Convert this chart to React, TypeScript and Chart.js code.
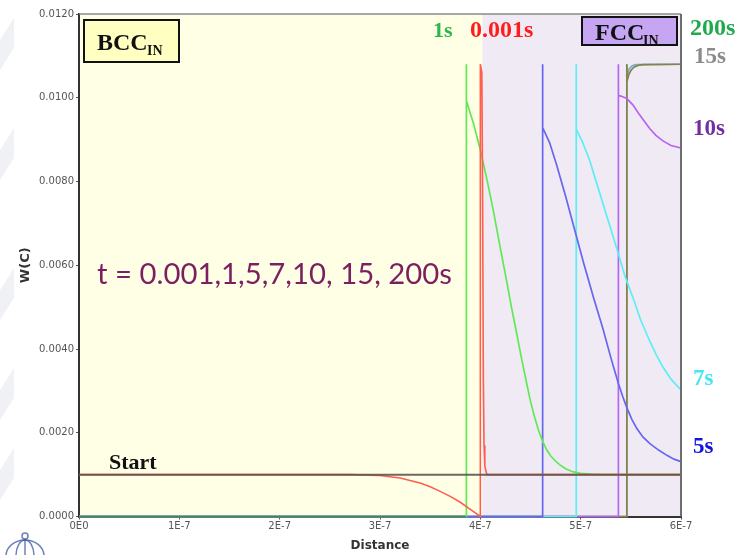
import { useEffect, useRef } from 'react';
import { Chart, registerables } from 'chart.js';

Chart.register(...registerables);

// ---- Axes ----
const X_TICKS = [0, 1e-7, 2e-7, 3e-7, 4e-7, 5e-7, 6e-7];
const X_TICK_LABELS = ['0E0', '1E-7', '2E-7', '3E-7', '4E-7', '5E-7', '6E-7'];
const Y_TICKS = [0, 0.002, 0.004, 0.006, 0.008, 0.01, 0.012];
const Y_TICK_LABELS = ['0.0000', '0.0020', '0.0040', '0.0060', '0.0080', '0.0100', '0.0120'];

// Initial BCC | FCC interface position
const PHASE_BOUNDARY = 4.02e-7;

// ---- Carbon profiles W(C) vs distance ----
const START_DIST = [0, 6e-7];
const START_W = [0.001, 0.001];

const T0001_DIST = [0, 2.7e-7, 3.0e-7, 3.2e-7, 3.4e-7, 3.5e-7, 3.6e-7, 3.7e-7, 3.8e-7, 3.9e-7, 4.0e-7, 4.0e-7, 4.015e-7, 4.022e-7, 4.03e-7, 4.037e-7, 4.045e-7, 4.065e-7, 6e-7];
const T0001_W = [0.001, 0.001, 0.00098, 0.00092, 0.0008, 0.00071, 0.0006, 0.00048, 0.00034, 0.00017, 0, 0.0108, 0.0106, 0.008, 0.0033, 0.0017, 0.0012, 0.001, 0.001];

const T1_DIST = [0, 3.86e-7, 3.86e-7, 3.862e-7, 3.93e-7, 4.0e-7, 4.07e-7, 4.13e-7, 4.2e-7, 4.26e-7, 4.31e-7, 4.36e-7, 4.41e-7, 4.46e-7, 4.5e-7, 4.54e-7, 4.58e-7, 4.62e-7, 4.66e-7, 4.7e-7, 4.75e-7, 4.79e-7, 4.85e-7, 4.92e-7, 5.0e-7, 5.1e-7, 5.2e-7, 6e-7];
const T1_W = [0, 0, 0.0108, 0.00993, 0.0094, 0.00876, 0.008, 0.0073, 0.0064, 0.00565, 0.005, 0.0044, 0.00378, 0.0032, 0.00275, 0.00238, 0.00206, 0.0018, 0.0016, 0.00145, 0.00132, 0.00124, 0.00114, 0.00107, 0.00103, 0.00101, 0.001, 0.001];

const T5_DIST = [0, 4.62e-7, 4.62e-7, 4.622e-7, 4.69e-7, 4.76e-7, 4.85e-7, 4.94e-7, 5.03e-7, 5.13e-7, 5.22e-7, 5.3e-7, 5.375e-7, 5.42e-7, 5.46e-7, 5.51e-7, 5.56e-7, 5.62e-7, 5.69e-7, 5.78e-7, 5.86e-7, 5.93e-7, 6e-7];
const T5_W = [0, 0, 0.0108, 0.00929, 0.00893, 0.0084, 0.00765, 0.00685, 0.00605, 0.00521, 0.0045, 0.0038, 0.00318, 0.00286, 0.0026, 0.00232, 0.0021, 0.0019, 0.00174, 0.00158, 0.00146, 0.00137, 0.00131];

const T7_DIST = [0, 4.955e-7, 4.955e-7, 4.957e-7, 5.02e-7, 5.09e-7, 5.18e-7, 5.27e-7, 5.36e-7, 5.44e-7, 5.525e-7, 5.6e-7, 5.69e-7, 5.76e-7, 5.82e-7, 5.9e-7, 6e-7];
const T7_W = [0, 0, 0.0108, 0.00926, 0.00893, 0.0085, 0.0078, 0.0071, 0.0064, 0.00575, 0.0052, 0.00468, 0.00418, 0.00383, 0.00357, 0.00328, 0.00302];

const T10_DIST = [0, 5.375e-7, 5.375e-7, 5.377e-7, 5.4e-7, 5.46e-7, 5.52e-7, 5.58e-7, 5.64e-7, 5.69e-7, 5.75e-7, 5.82e-7, 5.9e-7, 6e-7];
const T10_W = [0, 0, 0.0108, 0.01006, 0.01004, 0.00998, 0.00983, 0.00962, 0.00942, 0.00926, 0.0091, 0.00897, 0.00886, 0.0088];

const T15_DIST = [0, 5.46e-7, 5.46e-7, 5.462e-7, 5.48e-7, 5.5e-7, 5.53e-7, 5.57e-7, 5.62e-7, 6e-7];
const T15_W = [0, 0, 0.0108, 0.0104, 0.01055, 0.01065, 0.01073, 0.01077, 0.01079, 0.0108];

const T200_DIST = [0, 5.46e-7, 5.46e-7, 5.465e-7, 5.48e-7, 5.51e-7, 5.55e-7, 6e-7];
const T200_W = [0, 0, 0.0108, 0.0105, 0.01068, 0.01076, 0.01079, 0.0108];

const pts = (xs: number[], ys: number[]) => xs.map((x, i) => ({ x, y: ys[i] }));

// first dataset is painted on top
const SERIES = [
  { label: 'Start', data: pts(START_DIST, START_W), color: 'rgba(95,85,78,0.9)', width: 2 },
  { label: '0.001s', data: pts(T0001_DIST, T0001_W), color: '#ff5e4e', width: 1.6 },
  { label: '1s', data: pts(T1_DIST, T1_W), color: '#5fea55', width: 1.7, base: '#3c8f3c' },
  { label: '5s', data: pts(T5_DIST, T5_W), color: '#6666f0', width: 1.7 },
  { label: '7s', data: pts(T7_DIST, T7_W), color: '#5ceef4', width: 1.7 },
  { label: '10s', data: pts(T10_DIST, T10_W), color: '#b864f0', width: 1.7 },
  { label: '15s', data: pts(T15_DIST, T15_W), color: '#8c8048', width: 1.7 },
  { label: '200s', data: pts(T200_DIST, T200_W), color: '#6ab2c8', width: 1.7 },
];

const SERIF = '"Liberation Serif", "Times New Roman", serif';

function label(ctx: CanvasRenderingContext2D, text: string, x: number, y: number, font: string, color: string) {
  ctx.save();
  ctx.font = font;
  ctx.fillStyle = color;
  ctx.textBaseline = 'alphabetic';
  ctx.textAlign = 'left';
  ctx.fillText(text, x, y);
  ctx.restore();
}

// text drawn with its width fitted to a given span
function fitText(ctx: CanvasRenderingContext2D, text: string, x: number, y: number, width: number, font: string, color: string) {
  ctx.save();
  ctx.font = font;
  const w = ctx.measureText(text).width;
  ctx.translate(x, y);
  ctx.scale(width / w, 1);
  ctx.fillStyle = color;
  ctx.textBaseline = 'alphabetic';
  ctx.textAlign = 'left';
  ctx.fillText(text, 0, 0);
  ctx.restore();
}

const decorPlugin = {
  id: 'decor',
  beforeDraw(chart: any) {
    const { ctx, chartArea: a, scales } = chart;
    const xb = scales.x.getPixelForValue(PHASE_BOUNDARY);
    ctx.save();
    ctx.fillStyle = '#ffffe6';
    ctx.fillRect(a.left, a.top, xb - a.left, a.bottom - a.top);
    ctx.fillStyle = '#f0eaf5';
    ctx.fillRect(xb, a.top, a.right - xb, a.bottom - a.top);

    // faint watermark bands at the page edges
    ctx.fillStyle = 'rgba(205,210,222,0.3)';
    const bands = [40, 150, 290, 390, 470];
    bands.forEach((y) => {
      ctx.beginPath();
      ctx.moveTo(0, y);
      ctx.lineTo(14, y - 22);
      ctx.lineTo(14, y + 8);
      ctx.lineTo(0, y + 30);
      ctx.closePath();
      ctx.fill();
    });

    // emblem at bottom left
    ctx.strokeStyle = 'rgba(60,90,160,0.75)';
    ctx.lineWidth = 1.5;
    ctx.beginPath();
    ctx.ellipse(25, 556, 19, 16, 0, Math.PI, 2 * Math.PI);
    ctx.stroke();
    ctx.beginPath();
    ctx.ellipse(25, 556, 9, 16, 0, Math.PI, 2 * Math.PI);
    ctx.stroke();
    ctx.beginPath();
    ctx.arc(25, 536, 3, 0, 2 * Math.PI);
    ctx.stroke();
    ctx.beginPath();
    ctx.moveTo(25, 539);
    ctx.lineTo(25, 555);
    ctx.stroke();
    ctx.restore();
  },
  afterDraw(chart: any) {
    const { ctx, chartArea: a } = chart;
    ctx.save();
    // frame
    ctx.strokeStyle = '#8a8a8a';
    ctx.lineWidth = 1.5;
    ctx.beginPath();
    ctx.moveTo(a.left, a.top);
    ctx.lineTo(a.right, a.top);
    ctx.stroke();
    ctx.strokeStyle = '#6e6e6e';
    ctx.lineWidth = 2;
    ctx.beginPath();
    ctx.moveTo(a.right, a.top);
    ctx.lineTo(a.right, a.bottom);
    ctx.stroke();

    // phase boxes
    ctx.lineWidth = 2;
    ctx.strokeStyle = '#111';
    ctx.fillStyle = '#ffffc2';
    ctx.fillRect(84, 20, 95, 42);
    ctx.strokeRect(84, 20, 95, 42);
    ctx.fillStyle = '#c6a5f3';
    ctx.fillRect(582, 17, 95, 28);
    ctx.strokeRect(582, 17, 95, 28);
    ctx.restore();

    label(ctx, 'BCC', 97, 50, `bold 24px ${SERIF}`, '#111');
    label(ctx, 'IN', 147, 55, `bold 14px ${SERIF}`, '#111');
    label(ctx, 'FCC', 595, 40, `bold 24px ${SERIF}`, '#111');
    label(ctx, 'IN', 643, 45, `bold 14px ${SERIF}`, '#111');

    label(ctx, '1s', 433, 37, `bold 22px ${SERIF}`, '#2fb54f');
    label(ctx, '0.001s', 470, 37, `bold 24px ${SERIF}`, '#ff1c1c');
    label(ctx, '200s', 690, 35, `bold 24px ${SERIF}`, '#1faa4e');
    label(ctx, '15s', 694, 63, `bold 23px ${SERIF}`, '#8b8b8b');
    label(ctx, '10s', 693, 135, `bold 23px ${SERIF}`, '#7030a0');
    label(ctx, '7s', 693, 385, `bold 23px ${SERIF}`, '#45e6f2');
    label(ctx, '5s', 693, 453, `bold 23px ${SERIF}`, '#1414e0');
    label(ctx, 'Start', 109, 469, `bold 22px ${SERIF}`, '#111');

    fitText(ctx, 't = 0.001,1,5,7,10, 15, 200s', 97, 284, 355, '29px Lato, "Open Sans", sans-serif', '#7b1f5f');
  },
};

export default function App() {
  const ref = useRef<HTMLCanvasElement>(null);

  useEffect(() => {
    const canvas = ref.current;
    if (!canvas) return;
    const tickFont = { family: '"DejaVu Sans", sans-serif', size: 10 };

    const chart = new Chart(canvas, {
      type: 'scatter',
      data: {
        datasets: SERIES.map((s: any) => ({
          label: s.label,
          data: s.data,
          showLine: true,
          borderColor: s.color,
          backgroundColor: s.color,
          borderWidth: s.width,
          pointRadius: 0,
          pointHoverRadius: 0,
          fill: false,
          tension: 0,
          clip: 3,
          segment: s.base
            ? { borderColor: (c: any) => (c.p0.parsed.y === 0 && c.p1.parsed.y === 0 ? s.base : undefined) }
            : undefined,
        })),
      },
      options: {
        responsive: false,
        animation: false,
        devicePixelRatio: 1,
        events: [],
        layout: { padding: { left: 0, top: 14, right: 57, bottom: 0 } },
        plugins: { legend: { display: false }, tooltip: { enabled: false } },
        scales: {
          x: {
            type: 'linear',
            min: 0,
            max: 6e-7,
            afterBuildTicks: (s: any) => {
              s.ticks = X_TICKS.map((v) => ({ value: v }));
            },
            afterFit: (s: any) => {
              s.height = 38.5;
            },
            ticks: {
              callback: (_v: any, i: number) => X_TICK_LABELS[i],
              font: tickFont,
              color: '#555',
              padding: 1,
              maxRotation: 0,
              autoSkip: false,
            },
            grid: { drawOnChartArea: false, tickLength: 3, color: '#555' },
            border: { color: '#333', width: 2 },
            title: {
              display: true,
              text: 'Distance',
              font: { family: '"DejaVu Sans", sans-serif', size: 12, weight: 'bold' },
              color: '#333',
              padding: { top: 0, bottom: 2 },
            },
          },
          y: {
            type: 'linear',
            min: 0,
            max: 0.012,
            afterBuildTicks: (s: any) => {
              s.ticks = Y_TICKS.map((v) => ({ value: v }));
            },
            afterFit: (s: any) => {
              s.width = 79;
            },
            ticks: {
              callback: (_v: any, i: number) => Y_TICK_LABELS[i],
              font: tickFont,
              color: '#555',
              padding: 2,
            },
            grid: { drawOnChartArea: false, tickLength: 3, color: '#555' },
            border: { color: '#333', width: 2 },
            title: {
              display: true,
              text: 'W(C)',
              font: { family: '"DejaVu Sans", sans-serif', size: 13, weight: 'bold' },
              color: '#333',
              padding: { top: 18, bottom: 0 },
            },
          },
        },
      },
      plugins: [decorPlugin],
    });
    return () => chart.destroy();
  }, []);

  return (
    <div style={{ position: 'absolute', left: 0, top: 0, width: 738, height: 555, background: '#fff' }}>
      <canvas ref={ref} width={738} height={555} style={{ display: 'block', width: 738, height: 555 }} />
    </div>
  );
}
